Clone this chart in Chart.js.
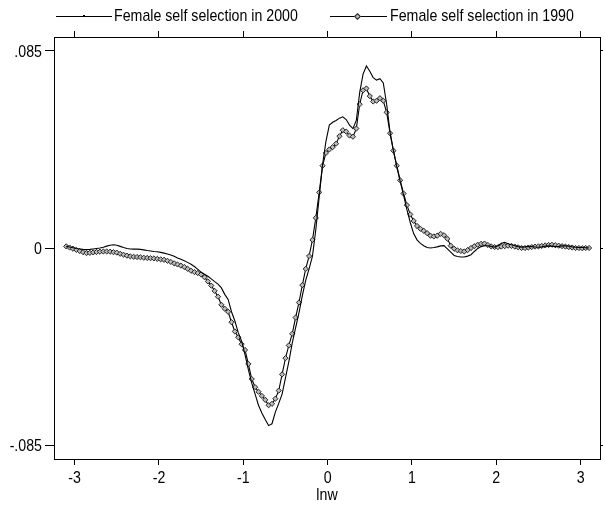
<!DOCTYPE html>
<html><head><meta charset="utf-8">
<script src="https://cdn.jsdelivr.net/npm/chart.js@4.4.1/dist/chart.umd.min.js"></script>
<style>
html,body{margin:0;padding:0;background:#fff;}
#wrap{position:relative;width:605px;height:506px;overflow:hidden;}
#c{position:absolute;left:0;top:0;}
.lg{position:absolute;font-family:'Liberation Sans',Arial,sans-serif;font-size:17px;color:#000;line-height:20px;top:6px;white-space:nowrap;transform:scaleX(0.835);transform-origin:0 50%;}
.ln{position:absolute;height:0;border-top:1px solid #000;top:16px;}
.dot{position:absolute;width:2px;height:2px;background:#000;left:83px;top:15px;}
.dia{position:absolute;width:3px;height:3px;border:1px solid #222;background:#bbb;transform:rotate(45deg);left:355px;top:14px;}
</style></head>
<body>
<div id="wrap">
<canvas id="c" width="605" height="506"></canvas>
<div class="ln" style="left:56px;width:56px"></div><div class="dot"></div>
<div class="lg" style="left:114px">Female self selection in 2000</div>
<div class="ln" style="left:330px;width:57px"></div><div class="dia"></div>
<div class="lg" style="left:390px">Female self selection in 1990</div>
</div>
<script>
const xs = [
-3.10,-3.06,-3.02,-2.98,-2.94,-2.90,-2.86,-2.82,-2.78,-2.74,
-2.70,-2.66,-2.62,-2.58,-2.54,-2.50,-2.46,-2.42,-2.38,-2.34,
-2.30,-2.26,-2.22,-2.18,-2.14,-2.10,-2.06,-2.02,-1.98,-1.94,
-1.90,-1.86,-1.82,-1.78,-1.74,-1.70,-1.66,-1.62,-1.58,-1.54,
-1.50,-1.46,-1.42,-1.38,-1.34,-1.30,-1.26,-1.22,-1.18,-1.14,
-1.10,-1.06,-1.02,-0.98,-0.94,-0.90,-0.86,-0.82,-0.78,-0.74,
-0.70,-0.66,-0.62,-0.58,-0.54,-0.50,-0.46,-0.42,-0.38,-0.34,
-0.30,-0.26,-0.22,-0.18,-0.14,-0.10,-0.06,-0.02,0.02,0.06,
0.10,0.14,0.18,0.22,0.26,0.30,0.34,0.38,0.42,0.46,
0.50,0.54,0.58,0.62,0.66,0.70,0.74,0.78,0.82,0.86,
0.90,0.94,0.98,1.02,1.06,1.10,1.14,1.18,1.22,1.26,
1.30,1.34,1.38,1.42,1.46,1.50,1.54,1.58,1.62,1.66,
1.70,1.74,1.78,1.82,1.86,1.90,1.94,1.98,2.02,2.06,
2.10,2.14,2.18,2.22,2.26,2.30,2.34,2.38,2.42,2.46,
2.50,2.54,2.58,2.62,2.66,2.70,2.74,2.78,2.82,2.86,
2.90,2.94,2.98,3.02,3.06,3.10];

const female2000 = [
0.0007,0.0004,0.0001,-0.0002,-0.0004,-0.0006,-0.0007,-0.0006,-0.0004,-0.0002,
0.0000,0.0003,0.0008,0.0012,0.0014,0.0012,0.0007,0.0002,-0.0002,-0.0004,
-0.0005,-0.0005,-0.0006,-0.0008,-0.0011,-0.0013,-0.0015,-0.0016,-0.0019,-0.0022,
-0.0026,-0.0030,-0.0036,-0.0043,-0.0049,-0.0055,-0.0062,-0.0070,-0.0080,-0.0092,
-0.0104,-0.0113,-0.0122,-0.0133,-0.0145,-0.0156,-0.0172,-0.0200,-0.0222,-0.0275,
-0.0315,-0.0365,-0.0402,-0.0460,-0.0525,-0.0583,-0.0630,-0.0678,-0.0712,-0.0740,
-0.0766,-0.0758,-0.0708,-0.0670,-0.0630,-0.0560,-0.0490,-0.0410,-0.0345,-0.0280,
-0.0205,-0.0140,-0.0090,-0.0035,0.0080,0.0220,0.0360,0.0460,0.0530,0.0542,
0.0550,0.0560,0.0566,0.0554,0.0530,0.0515,0.0550,0.0670,0.0750,0.0785,
0.0762,0.0735,0.0724,0.0730,0.0712,0.0620,0.0500,0.0420,0.0350,0.0288,
0.0228,0.0165,0.0110,0.0062,0.0035,0.0020,0.0010,0.0002,0.0000,0.0002,
0.0005,0.0009,0.0010,-0.0004,-0.0018,-0.0032,-0.0037,-0.0039,-0.0039,-0.0035,
-0.0029,-0.0015,-0.0002,0.0006,0.0010,0.0010,0.0007,0.0004,0.0010,0.0020,
0.0024,0.0018,0.0014,0.0010,0.0006,0.0004,0.0005,0.0007,0.0006,0.0004,
0.0003,0.0005,0.0008,0.0009,0.0008,0.0006,0.0007,0.0009,0.0010,0.0008,
0.0005,0.0003,0.0002,0.0002,0.0001,0.0000];

const female1990 = [
0.0007,0.0002,-0.0003,-0.0008,-0.0013,-0.0018,-0.0022,-0.0021,-0.0019,-0.0017,
-0.0016,-0.0015,-0.0015,-0.0016,-0.0018,-0.0020,-0.0025,-0.0029,-0.0033,-0.0036,
-0.0038,-0.0039,-0.0040,-0.0042,-0.0043,-0.0044,-0.0045,-0.0047,-0.0049,-0.0051,
-0.0055,-0.0060,-0.0066,-0.0071,-0.0076,-0.0082,-0.0090,-0.0098,-0.0104,-0.0108,
-0.0114,-0.0126,-0.0144,-0.0162,-0.0185,-0.0210,-0.0245,-0.0262,-0.0275,-0.0320,
-0.0360,-0.0385,-0.0415,-0.0440,-0.0500,-0.0565,-0.0600,-0.0620,-0.0638,-0.0655,
-0.0678,-0.0672,-0.0650,-0.0615,-0.0545,-0.0475,-0.0420,-0.0370,-0.0300,-0.0235,
-0.0160,-0.0090,-0.0035,0.0035,0.0130,0.0240,0.0355,0.0410,0.0425,0.0435,
0.0450,0.0482,0.0508,0.0502,0.0485,0.0480,0.0515,0.0620,0.0680,0.0688,
0.0655,0.0632,0.0635,0.0646,0.0635,0.0585,0.0495,0.0420,0.0355,0.0292,
0.0235,0.0185,0.0145,0.0117,0.0095,0.0083,0.0074,0.0064,0.0053,0.0050,
0.0053,0.0061,0.0055,0.0040,0.0010,-0.0003,-0.0010,-0.0013,-0.0015,-0.0009,
0.0000,0.0008,0.0014,0.0018,0.0019,0.0013,0.0007,0.0004,0.0004,0.0006,
0.0008,0.0010,0.0009,0.0006,0.0003,0.0000,0.0000,0.0002,0.0004,0.0006,
0.0007,0.0009,0.0011,0.0013,0.0014,0.0012,0.0010,0.0008,0.0006,0.0004,
0.0002,0.0000,0.0000,-0.0001,0.0000,0.0000];

const xTicks = [-3,-2,-1,0,1,2,3];
const xTickLabels = ['-3','-2','-1','0','1','2','3'];
const yTicks = [-0.085,0,0.085];
const yTickLabels = ['-.085','0','.085'];
const xTitle = 'lnw';

const X_MIN=-3.245, X_MAX=3.23, Y_MIN=-0.091, Y_MAX=0.091;
const SX = 0.835;
const FONT_CSS = "17px 'Liberation Sans', Arial, sans-serif";

const pts = arr => xs.map((x,i)=>({x:x, y:arr[i]}));

// draws axis labels in a condensed (narrow) face using the chart's own scales
const narrowLabels = {
  id:'narrowLabels',
  afterDraw(chart){
    const ctx = chart.ctx, sx = chart.scales.x, sy = chart.scales.y, ca = chart.chartArea;
    const put = (t, x, y, align) => {
      ctx.save(); ctx.translate(x, y); ctx.scale(SX, 1);
      ctx.font = FONT_CSS; ctx.fillStyle = '#000'; ctx.textAlign = align; ctx.textBaseline = 'alphabetic';
      ctx.fillText(t, 0, 0); ctx.restore();
    };
    xTicks.forEach((v,i)=>put(xTickLabels[i], sx.getPixelForValue(v), ca.bottom + 24, 'center'));
    yTicks.forEach((v,i)=>put(yTickLabels[i], ca.left - 12, sy.getPixelForValue(v) + 6, 'right'));
    put(xTitle, (ca.left + ca.right)/2, ca.bottom + 41, 'center');
  }
};

new Chart(document.getElementById('c').getContext('2d'), {
  type:'line',
  data:{datasets:[
    {label:'Female self selection in 2000', data:pts(female2000), borderColor:'#000', borderWidth:1.1, pointRadius:0, tension:0, fill:false},
    {label:'Female self selection in 1990', data:pts(female1990), borderColor:'#000', borderWidth:1.1, tension:0, fill:false,
     pointStyle:'rectRot', pointRadius:2.6, pointBorderWidth:1, pointBorderColor:'#222', pointBackgroundColor:'#bbb'}
  ]},
  plugins:[narrowLabels],
  options:{
    responsive:false, animation:false, devicePixelRatio:1,
    layout:{padding:{top:31,left:0,right:0,bottom:0}},
    plugins:{legend:{display:false}, tooltip:{enabled:false}},
    scales:{
      x:{type:'linear', position:'bottom', min:X_MIN, max:X_MAX,
         afterBuildTicks:s=>{s.ticks = xTicks.map(v=>({value:v}));},
         afterFit:s=>{s.height=47;},
         ticks:{display:false},
         grid:{drawOnChartArea:false, drawTicks:true, tickLength:6, color:'#000'},
         border:{display:true, color:'#000', width:1}},
      x2:{type:'linear', position:'top', min:X_MIN, max:X_MAX,
         afterBuildTicks:s=>{s.ticks = xTicks.map(v=>({value:v}));},
         afterFit:s=>{s.height=6;},
         ticks:{display:false},
         grid:{drawOnChartArea:false, drawTicks:true, tickLength:6, color:'#000'},
         border:{display:true, color:'#000', width:1}},
      y:{type:'linear', position:'left', min:Y_MIN, max:Y_MAX,
         afterBuildTicks:s=>{s.ticks = yTicks.map(v=>({value:v}));},
         afterFit:s=>{s.width=54;},
         ticks:{display:false},
         grid:{drawOnChartArea:false, drawTicks:true, tickLength:9, color:'#000'},
         border:{display:true, color:'#000', width:1}},
      y2:{type:'linear', position:'right', min:Y_MIN, max:Y_MAX,
         afterBuildTicks:s=>{s.ticks = yTicks.map(v=>({value:v}));},
         afterFit:s=>{s.width=3;},
         ticks:{display:false},
         grid:{drawOnChartArea:false, drawTicks:true, tickLength:3, color:'#000'},
         border:{display:true, color:'#000', width:1}}
    }
  }
});
</script>
</body></html>
